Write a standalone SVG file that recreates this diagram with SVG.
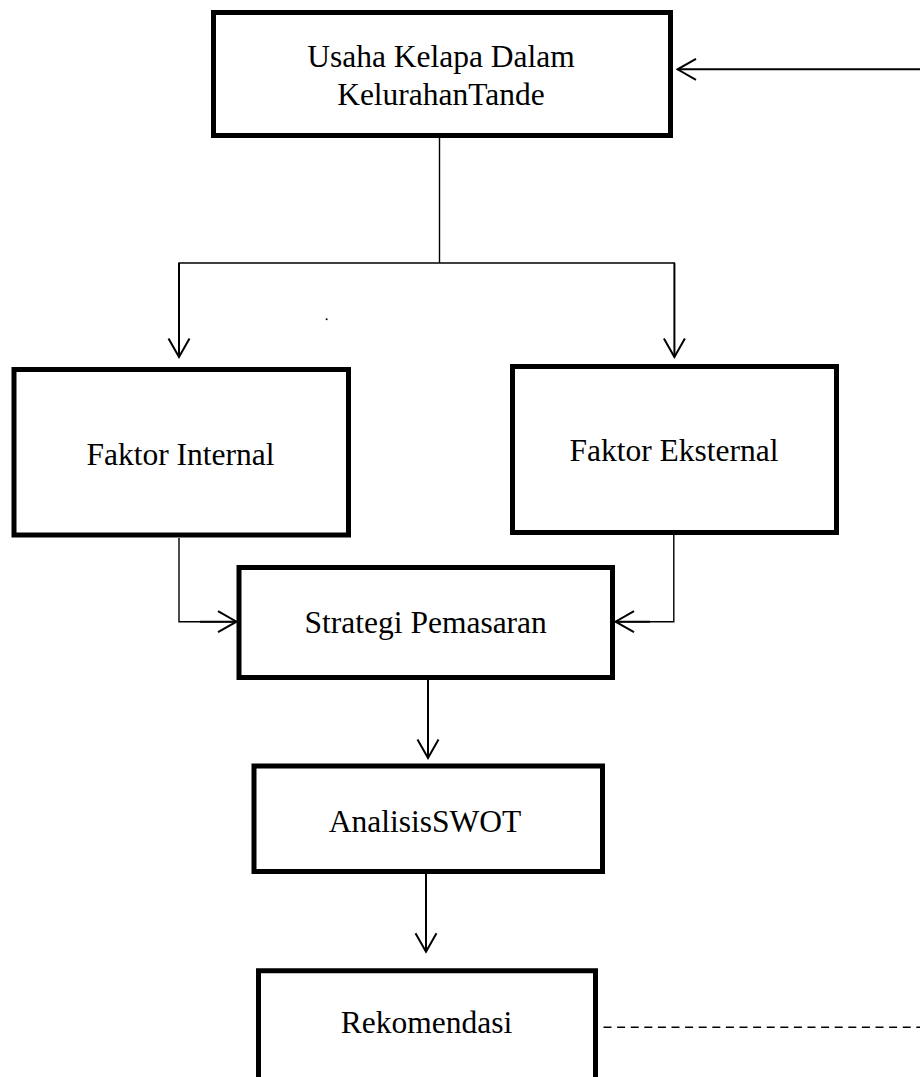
<svg xmlns="http://www.w3.org/2000/svg" width="920" height="1077" viewBox="0 0 920 1077">
  <style>
    .box { fill: #ffffff; stroke: #000000; stroke-width: 5; }
    .lbl { font-family: "Liberation Serif", "Times New Roman", serif; font-size: 31.5px; fill: #000000; text-anchor: middle; }
    .thin { fill: none; stroke: #000000; stroke-width: 1.4; }
    .arr { fill: none; stroke: #000000; stroke-width: 2; }
    .dash { fill: none; stroke: #000000; stroke-width: 1.6; stroke-dasharray: 8 5.6; }
  </style>
  <defs>
    <marker id="open" markerUnits="userSpaceOnUse" markerWidth="22" markerHeight="24" viewBox="0 0 22 24" refX="20" refY="12" orient="auto">
      <path d="M1.5,1.5 L20,12 L1.5,22.5" fill="none" stroke="#000000" stroke-width="2"/>
    </marker>
  </defs>
  <rect width="920" height="1077" fill="#ffffff"/>

  <g id="connectors">
    <line class="arr" x1="920" y1="69.3" x2="677.5" y2="69.3" marker-end="url(#open)"/>
    <line class="thin" x1="439.5" y1="138" x2="439.5" y2="263"/>
    <line class="thin" x1="178.3" y1="263" x2="675" y2="263"/>
    <line class="arr" x1="179" y1="263" x2="179" y2="357" marker-end="url(#open)"/>
    <line class="arr" x1="674.4" y1="263" x2="674.4" y2="357" marker-end="url(#open)"/>
    <polyline class="thin" points="179,538 179,621.7 236,621.7"/>
    <line class="arr" x1="200" y1="621.7" x2="236.5" y2="621.7" marker-end="url(#open)"/>
    <polyline class="thin" points="673.8,535 673.8,621.7 616,621.7"/>
    <line class="arr" x1="650" y1="621.7" x2="615.5" y2="621.7" marker-end="url(#open)"/>
    <line class="arr" x1="428" y1="680" x2="428" y2="758" marker-end="url(#open)"/>
    <line class="arr" x1="426" y1="874" x2="426" y2="951.7" marker-end="url(#open)"/>
    <line class="dash" x1="603.5" y1="1027.3" x2="920" y2="1027.3"/>
    <circle cx="326.6" cy="319.3" r="1" fill="#000000"/>
  </g>

  <g id="node-usaha">
    <rect class="box" x="213.5" y="12.5" width="457" height="123"/>
    <text class="lbl" x="441" y="67">Usaha Kelapa Dalam</text>
    <text class="lbl" x="441" y="105">KelurahanTande</text>
  </g>

  <g id="node-internal">
    <rect class="box" x="14" y="369.5" width="334.5" height="165.5"/>
    <text class="lbl" x="180.5" y="465">Faktor Internal</text>
  </g>

  <g id="node-eksternal">
    <rect class="box" x="512.5" y="366.5" width="324" height="166"/>
    <text class="lbl" x="674" y="461">Faktor Eksternal</text>
  </g>

  <g id="node-strategi">
    <rect class="box" x="239" y="567.5" width="373.5" height="110"/>
    <text class="lbl" x="425.7" y="633">Strategi Pemasaran</text>
  </g>

  <g id="node-swot">
    <rect class="box" x="254" y="766" width="348.5" height="105.5"/>
    <text class="lbl" x="425" y="831.7">AnalisisSWOT</text>
  </g>

  <g id="node-rekomendasi">
    <path class="box" d="M258.5,1085 V970.8 H595.5 V1085"/>
    <text class="lbl" x="426.5" y="1033">Rekomendasi</text>
  </g>
</svg>
